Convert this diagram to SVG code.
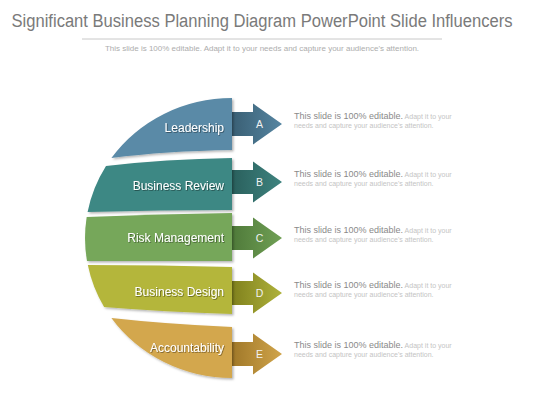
<svg xmlns="http://www.w3.org/2000/svg" width="560" height="420" viewBox="0 0 560 420">
<defs>
<style>
.title{font-family:"Liberation Sans",Arial,sans-serif;font-size:18px;fill:#7a7a7a}
.sub{font-family:"Liberation Sans",Arial,sans-serif;font-size:8px;fill:#adadad}
.lbl{font-family:"Liberation Sans",Arial,sans-serif;font-size:12px;fill:#ffffff;text-anchor:end}
.let{font-family:"Liberation Sans",Arial,sans-serif;font-size:10.5px;fill:#f2f2f2;text-anchor:middle}
.d1{font-family:"Liberation Sans",Arial,sans-serif;font-size:9px;fill:#8a8a8a}
.d2{font-family:"Liberation Sans",Arial,sans-serif;font-size:7px;fill:#c4c4c4}
</style>
<filter id="sh" x="-10%" y="-10%" width="125%" height="130%">
<feDropShadow dx="1.5" dy="1.5" stdDeviation="1.3" flood-color="#000" flood-opacity="0.3"/>
</filter>
<filter id="ts" x="-5%" y="-20%" width="115%" height="150%">
<feDropShadow dx="0.8" dy="0.8" stdDeviation="0.5" flood-color="#000" flood-opacity="0.45"/>
</filter>
<linearGradient id="gA" gradientUnits="userSpaceOnUse" x1="232" y1="0" x2="282" y2="0"><stop offset="0" stop-color="#3a5f74"/><stop offset="1" stop-color="#5585a1"/></linearGradient>
<linearGradient id="gB" gradientUnits="userSpaceOnUse" x1="232" y1="0" x2="282" y2="0"><stop offset="0" stop-color="#2a605d"/><stop offset="1" stop-color="#3e837f"/></linearGradient>
<linearGradient id="gC" gradientUnits="userSpaceOnUse" x1="232" y1="0" x2="282" y2="0"><stop offset="0" stop-color="#4f7a3a"/><stop offset="1" stop-color="#70a055"/></linearGradient>
<linearGradient id="gD" gradientUnits="userSpaceOnUse" x1="232" y1="0" x2="282" y2="0"><stop offset="0" stop-color="#80811d"/><stop offset="1" stop-color="#afb23b"/></linearGradient>
<linearGradient id="gE" gradientUnits="userSpaceOnUse" x1="232" y1="0" x2="282" y2="0"><stop offset="0" stop-color="#a07829"/><stop offset="1" stop-color="#d0a44a"/></linearGradient>
</defs>
<rect width="560" height="420" fill="#ffffff"/>
<g id="header">
<text class="title" x="11.5" y="27" textLength="501" lengthAdjust="spacingAndGlyphs">Significant Business Planning Diagram PowerPoint Slide Influencers</text>
<line x1="82" y1="39" x2="442" y2="39" stroke="#c8c8c8" stroke-width="1"/>
<text class="sub" x="262" y="51" text-anchor="middle">This slide is 100% editable. Adapt it to your needs and capture your audience's attention.</text>
</g>
<g id="connectors">
<path d="M232,112 H253 V103.5 L282,124 L253,144.5 V136 H232 Z" fill="url(#gA)"/>
<path d="M232,170 H253 V161.5 L282,182 L253,202.5 V194 H232 Z" fill="url(#gB)"/>
<path d="M232,226 H253 V217.5 L282,238 L253,258.5 V250 H232 Z" fill="url(#gC)"/>
<path d="M232,281 H253 V272.5 L282,293 L253,313.5 V305 H232 Z" fill="url(#gD)"/>
<path d="M232,342 H253 V333.5 L282,354 L253,374.5 V366 H232 Z" fill="url(#gE)"/>
</g>
<g id="node-leadership">
<path d="M232,98 L232,150 Q165,151 111.4,158 A147,140 0 0 1 232,98 Z" fill="#5a8aa7" filter="url(#sh)"/>
<text class="lbl" x="224" y="132" filter="url(#ts)">Leadership</text>
<text class="let" x="259.5" y="127.5">A</text>
<text x="294" y="119"><tspan class="d1">This slide is 100% editable.</tspan><tspan class="d2"> Adapt it to your</tspan></text>
<text class="d2" x="294" y="127.5">needs and capture your audience's attention.</text>
</g>
<g id="node-business-review">
<path d="M232,158 L232,210 Q160,210 87.6,212 A147,140 0 0 1 106,166 Q165,159 232,158 Z" fill="#3e8884" filter="url(#sh)"/>
<text class="lbl" x="224" y="190" filter="url(#ts)">Business Review</text>
<text class="let" x="259.5" y="185.5">B</text>
<text x="294" y="177"><tspan class="d1">This slide is 100% editable.</tspan><tspan class="d2"> Adapt it to your</tspan></text>
<text class="d2" x="294" y="185.5">needs and capture your audience's attention.</text>
</g>
<g id="node-risk-management">
<path d="M232,213 L232,261 Q160,261 87,261 A147,140 0 0 1 86.7,217 Q160,214 232,213 Z" fill="#76a75a" filter="url(#sh)"/>
<text class="lbl" x="224" y="242" filter="url(#ts)">Risk Management</text>
<text class="let" x="259.5" y="241.5">C</text>
<text x="294" y="233"><tspan class="d1">This slide is 100% editable.</tspan><tspan class="d2"> Adapt it to your</tspan></text>
<text class="d2" x="294" y="241.5">needs and capture your audience's attention.</text>
</g>
<g id="node-business-design">
<path d="M232,267 L232,314 Q165,312 104.1,307 A147,140 0 0 1 87.8,265 Q160,265 232,267 Z" fill="#b4b63b" filter="url(#sh)"/>
<text class="lbl" x="224" y="296" filter="url(#ts)">Business Design</text>
<text class="let" x="259.5" y="296.5">D</text>
<text x="294" y="288"><tspan class="d1">This slide is 100% editable.</tspan><tspan class="d2"> Adapt it to your</tspan></text>
<text class="d2" x="294" y="296.5">needs and capture your audience's attention.</text>
</g>
<g id="node-accountability">
<path d="M232,327 L232,378 A147,140 0 0 1 111.4,318 Q165,324 232,327 Z" fill="#d3a74d" filter="url(#sh)"/>
<text class="lbl" x="224" y="352" filter="url(#ts)">Accountability</text>
<text class="let" x="259.5" y="357.5">E</text>
<text x="294" y="348"><tspan class="d1">This slide is 100% editable.</tspan><tspan class="d2"> Adapt it to your</tspan></text>
<text class="d2" x="294" y="356.5">needs and capture your audience's attention.</text>
</g>
</svg>
